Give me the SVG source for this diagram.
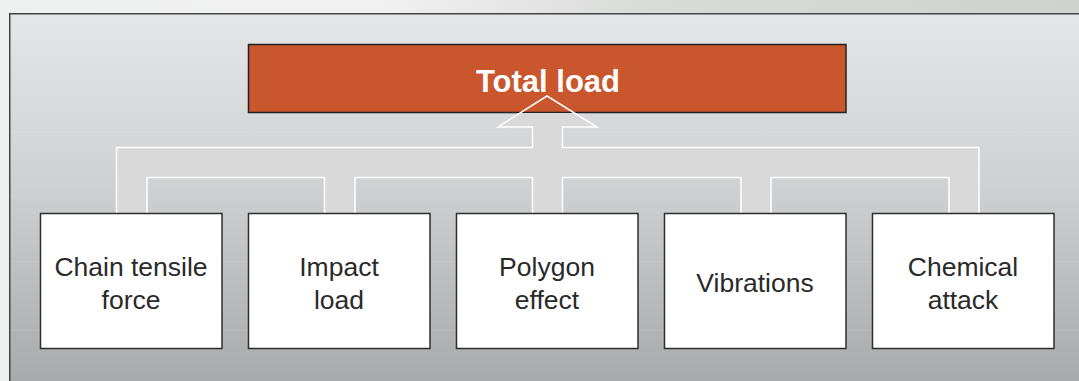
<svg xmlns="http://www.w3.org/2000/svg" width="1079" height="381" viewBox="0 0 1079 381">
  <defs>
    <linearGradient id="outerBg" x1="0" y1="0" x2="1" y2="0">
      <stop offset="0" stop-color="#eef0ef"/>
      <stop offset="0.35" stop-color="#f1f1f1"/>
      <stop offset="0.6" stop-color="#d9dbd9"/>
      <stop offset="1" stop-color="#cfd2cf"/>
    </linearGradient>
    <linearGradient id="panelBg" x1="0" y1="0" x2="0" y2="1">
      <stop offset="0" stop-color="#e5e6e8"/>
      <stop offset="0.45" stop-color="#d0d1d3"/>
      <stop offset="1" stop-color="#a8a9ab"/>
    </linearGradient>
    <clipPath id="belowHead">
      <rect x="0" y="113" width="1079" height="268"/>
    </clipPath>
    <style>
      .label { font-family: "Liberation Sans", Arial, sans-serif; font-size: 26.5px; fill: #2a2a2a; text-anchor: middle; }
      .title { font-family: "Liberation Sans", Arial, sans-serif; font-size: 31px; font-weight: bold; fill: #ffffff; text-anchor: middle; }
      .box { fill: #ffffff; stroke: #2e2e2e; stroke-width: 1.5; }
      .head { fill: #c9562d; stroke: #222222; stroke-width: 1.5; }
      .flow-fill { fill: #d9d9d9; stroke: none; }
      .flow-edge { fill: none; stroke: #ffffff; stroke-width: 1.5; stroke-linejoin: miter; }
      .streak { stroke: #ffffff; stroke-opacity: 0.12; stroke-width: 1; }
    </style>
  </defs>

  <!-- backdrop and framed panel -->
  <rect x="0" y="0" width="1079" height="381" fill="url(#outerBg)"/>
  <rect x="9" y="13" width="1075" height="373" fill="url(#panelBg)"/>
  <g class="streak">
    <line x1="10" y1="60" x2="1079" y2="60"/>
    <line x1="10" y1="132" x2="1079" y2="132"/>
    <line x1="10" y1="196" x2="1079" y2="196"/>
    <line x1="10" y1="262" x2="1079" y2="262"/>
    <line x1="10" y1="330" x2="1079" y2="330"/>
  </g>
  <path d="M9.75 381 V13.75 H1079" fill="none" stroke="#454545" stroke-width="1.5"/>

  <!-- top result node -->
  <g id="total-load">
    <rect class="head" x="248.5" y="44.5" width="597.5" height="68"/>
    <text class="title" x="548" y="91.5">Total load</text>
  </g>

  <!-- merging arrow from the five factors up to the total -->
  <g id="connectors">
    <path id="flow" class="flow-fill" clip-path="url(#belowHead)"
      d="M547 96 L597 127 H562.5 V147.5 H979 V213 H949 V177.5 H771 V213 H741 V177.5 H562.5 V213 H532.5 V177.5 H355 V213 H324.5 V177.5 H147 V213 H116.5 V147.5 H532.5 V127 H498 Z"/>
    <path class="flow-edge"
      d="M116.5 213 V147.5 H532.5 V127 H498 L547 96 L597 127 H562.5 V147.5 H979 V213
         M949 213 V177.5 H771 V213
         M741 213 V177.5 H562.5 V213
         M532.5 213 V177.5 H355 V213
         M324.5 213 V177.5 H147 V213"/>
  </g>

  <!-- contributing factors -->
  <g id="chain-tensile-force">
    <rect class="box" x="40.5" y="213.5" width="181.5" height="135"/>
    <text class="label" x="131" y="275.5">Chain tensile</text>
    <text class="label" x="131" y="308.5">force</text>
  </g>
  <g id="impact-load">
    <rect class="box" x="248.5" y="213.5" width="181.5" height="135"/>
    <text class="label" x="339" y="275.5">Impact</text>
    <text class="label" x="339" y="308.5">load</text>
  </g>
  <g id="polygon-effect">
    <rect class="box" x="456.5" y="213.5" width="181.5" height="135"/>
    <text class="label" x="547" y="275.5">Polygon</text>
    <text class="label" x="547" y="308.5">effect</text>
  </g>
  <g id="vibrations">
    <rect class="box" x="664.5" y="213.5" width="181.5" height="135"/>
    <text class="label" x="755" y="291.5">Vibrations</text>
  </g>
  <g id="chemical-attack">
    <rect class="box" x="872.5" y="213.5" width="181.5" height="135"/>
    <text class="label" x="963" y="275.5">Chemical</text>
    <text class="label" x="963" y="308.5">attack</text>
  </g>
</svg>
